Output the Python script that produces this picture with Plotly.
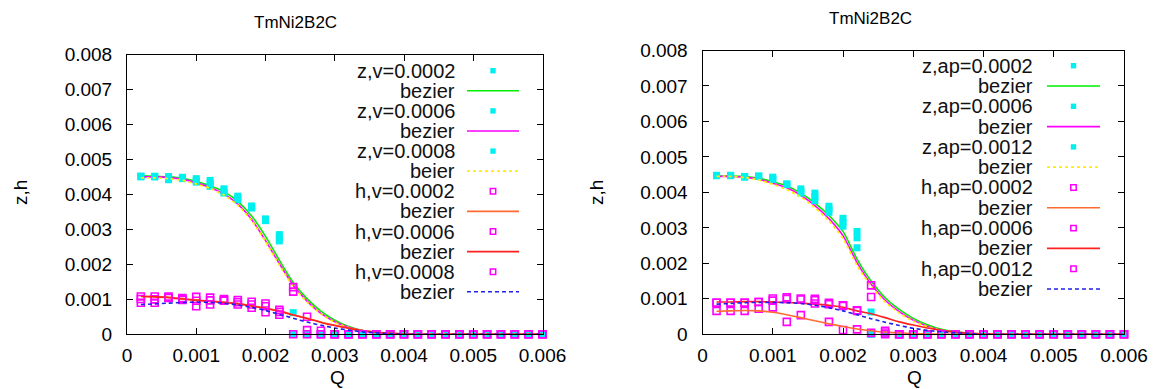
import plotly.graph_objects as go

# ---------------- data ----------------
Q = [0.0002, 0.0004, 0.0006, 0.0008, 0.0010, 0.0012, 0.0014, 0.0016, 0.0018, 0.0020,
     0.0022, 0.0024, 0.0026, 0.0028, 0.0030, 0.0032, 0.0034, 0.0036, 0.0038, 0.0040,
     0.0042, 0.0044, 0.0046, 0.0048, 0.0050, 0.0052, 0.0054, 0.0056, 0.0058, 0.0060]
Z10 = [0] * 10
Z16 = [0] * 16
Z17 = [0] * 17
Z18 = [0] * 18

# left panel (v)
z_v1 = [0.00452, 0.00452, 0.00451, 0.00449, 0.00445, 0.00440, 0.00416, 0.00395, 0.00367, 0.00330, 0.00285, 0.00062] + Z18
z_v2 = [0.00452, 0.00451, 0.00447, 0.00447, 0.00440, 0.00432, 0.00410, 0.00390, 0.00364, 0.00327, 0.00276, 0.0] + Z18
z_v3 = [0.00450, 0.00450, 0.00442, 0.00445, 0.00435, 0.00423, 0.00404, 0.00385, 0.00361, 0.00325, 0.00267, 0.0] + Z18
h_v1 = [0.00108, 0.00108, 0.00108, 0.00104, 0.00107, 0.00105, 0.00101, 0.00098, 0.00093, 0.00088, 0.00070, 0.00135, 0.00050, 0.00010] + Z16
h_v2 = [0.00101, 0.00100, 0.00105, 0.00101, 0.00096, 0.00097, 0.00098, 0.00092, 0.00085, 0.00080, 0.00064, 0.00122, 0.00012, 0.0] + Z16
h_v3 = [0.00090, 0.00090, 0.00104, 0.00098, 0.00080, 0.00085, 0.00096, 0.00085, 0.00076, 0.00063, 0.00056, 0.0, 0.0, 0.0] + Z16

bz_v1 = [0.00453, 0.00452, 0.00450, 0.00446, 0.00437, 0.00425, 0.00408, 0.00380, 0.00338, 0.00280,
         0.00212, 0.00148, 0.00102, 0.00066, 0.00040, 0.00022, 0.00011, 0.00005, 0.00002, 0.00001] + Z10
bz_v2 = [0.00450, 0.00450, 0.00448, 0.00443, 0.00433, 0.00420, 0.00401, 0.00372, 0.00328, 0.00268,
         0.00202, 0.00140, 0.00095, 0.00060, 0.00036, 0.00020, 0.00010, 0.00004, 0.00002, 0.0] + Z10
bz_v3 = [0.00447, 0.00447, 0.00445, 0.00440, 0.00430, 0.00417, 0.00398, 0.00369, 0.00325, 0.00265,
         0.00198, 0.00137, 0.00092, 0.00058, 0.00034, 0.00019, 0.00009, 0.00004, 0.00001, 0.0] + Z10
bh_v1 = [0.00109, 0.00108, 0.00106, 0.00102, 0.00098, 0.00095, 0.00092, 0.00088, 0.00082, 0.00075,
         0.00067, 0.00056, 0.00046, 0.00035, 0.00026, 0.00018, 0.00011, 0.00006, 0.00003, 0.00001] + Z10
bh_v2 = [0.00108, 0.00107, 0.00105, 0.00101, 0.00097, 0.00094, 0.00091, 0.00087, 0.00081, 0.00074,
         0.00066, 0.00055, 0.00045, 0.00034, 0.00025, 0.00017, 0.00011, 0.00006, 0.00003, 0.00001] + Z10
bh_v3 = [0.00085, 0.00087, 0.00089, 0.00091, 0.00092, 0.00091, 0.00089, 0.00084, 0.00077, 0.00068,
         0.00057, 0.00046, 0.00035, 0.00026, 0.00018, 0.00012, 0.00007, 0.00004, 0.00002, 0.0] + Z10

# right panel (ap)
z_ap1 = [0.00448, 0.00448, 0.00445, 0.00446, 0.00443, 0.00424, 0.00410, 0.00398, 0.00361, 0.00327, 0.00290, 0.00063] + Z18
z_ap2 = [0.00448, 0.00448, 0.00444, 0.00446, 0.00440, 0.00423, 0.00404, 0.00388, 0.00352, 0.00316, 0.00272, 0.0] + Z18
z_ap3 = [0.00447, 0.00447, 0.00443, 0.00445, 0.00436, 0.00422, 0.00398, 0.00377, 0.00344, 0.00305, 0.00244, 0.0] + Z18
h_ap1 = [0.00066, 0.00066, 0.00066, 0.00072, 0.00076, 0.00035, 0.00054, 0.00087, 0.00035, 0.00012, 0.00014, 0.00004, 0.0] + Z17
h_ap2 = [0.00089, 0.00089, 0.00089, 0.00091, 0.00101, 0.00104, 0.00101, 0.00100, 0.00089, 0.00082, 0.00068, 0.00138, 0.00010] + Z17
h_ap3 = [0.00089, 0.00089, 0.00089, 0.00091, 0.00095, 0.00100, 0.00098, 0.00096, 0.00085, 0.00080, 0.00066, 0.00105, 0.00005] + Z17

bz_ap1 = [0.00446, 0.00446, 0.00445, 0.00440, 0.00430, 0.00418, 0.00398, 0.00370, 0.00335, 0.00290,
          0.00212, 0.00150, 0.00103, 0.00070, 0.00045, 0.00027, 0.00014, 0.00007, 0.00003, 0.00001] + Z10
bz_ap2 = [0.00445, 0.00445, 0.00443, 0.00437, 0.00426, 0.00413, 0.00392, 0.00363, 0.00326, 0.00278,
          0.00202, 0.00141, 0.00096, 0.00064, 0.00040, 0.00023, 0.00012, 0.00006, 0.00002, 0.00001] + Z10
bz_ap3 = [0.00445, 0.00445, 0.00442, 0.00435, 0.00423, 0.00408, 0.00387, 0.00357, 0.00320, 0.00270,
          0.00194, 0.00135, 0.00091, 0.00060, 0.00037, 0.00021, 0.00011, 0.00005, 0.00002, 0.00001] + Z10
bh_ap1 = [0.00065, 0.00066, 0.00067, 0.00066, 0.00062, 0.00055, 0.00047, 0.00038, 0.00030, 0.00022,
          0.00015, 0.00010, 0.00006, 0.00004, 0.00002, 0.00001, 0.0, 0.0, 0.0, 0.0] + Z10
bh_ap2 = [0.00091, 0.00091, 0.00092, 0.00092, 0.00091, 0.00090, 0.00088, 0.00085, 0.00082, 0.00076,
          0.00066, 0.00058, 0.00047, 0.00035, 0.00026, 0.00018, 0.00011, 0.00006, 0.00003, 0.00001] + Z10
bh_ap3 = [0.00085, 0.00087, 0.00089, 0.00090, 0.00090, 0.00089, 0.00087, 0.00082, 0.00075, 0.00066,
          0.00055, 0.00044, 0.00034, 0.00025, 0.00017, 0.00011, 0.00007, 0.00004, 0.00002, 0.0] + Z10

x_tickvals = [0, 0.001, 0.002, 0.003, 0.004, 0.005, 0.006]
x_ticktext = ["0", "0.001", "0.002", "0.003", "0.004", "0.005", "0.006"]
y_tickvals = [0, 0.001, 0.002, 0.003, 0.004, 0.005, 0.006, 0.007, 0.008]
y_ticktext = ["0", "0.001", "0.002", "0.003", "0.004", "0.005", "0.006", "0.007", "0.008"]

title_text = "TmNi2B2C"
y_title = "z,h"
x_title = "Q"

labels_left = ["z,v=0.0002", "bezier", "z,v=0.0006", "bezier", "z,v=0.0008", "beier",
               "h,v=0.0002", "bezier", "h,v=0.0006", "bezier", "h,v=0.0008", "bezier"]
labels_right = ["z,ap=0.0002", "bezier", "z,ap=0.0006", "bezier", "z,ap=0.0012", "bezier",
                "h,ap=0.0002", "bezier", "h,ap=0.0006", "bezier", "h,ap=0.0012", "bezier"]

# ---------------- styles ----------------
W, H = 1155, 389
FONT = "Liberation Sans, Arial, sans-serif"
CYAN = "#00f0f0"
MAG = "#ff00ff"
line_styles = [
    dict(color="#00ee00", width=1.6, dash="solid"),
    dict(color="#ff00ff", width=1.6, dash="solid"),
    dict(color="#ffee00", width=1.8, dash="dot"),
    dict(color="#ff6a30", width=1.6, dash="solid"),
    dict(color="#ff2020", width=1.6, dash="solid"),
    dict(color="#2020ee", width=1.6, dash="4px,3px"),
]
pt_z = dict(symbol="square", size=7, color=CYAN, line=dict(width=0))
pt_h = dict(symbol="square-open", size=7, color=MAG, line=dict(width=1.6, color=MAG))

fig = go.Figure()


def add_panel(xa, ya, pts, curves):
    for i in range(6):
        mk = pt_z if i < 3 else pt_h
        fig.add_trace(go.Scatter(x=Q, y=pts[i], mode="markers", marker=mk,
                                 xaxis=xa, yaxis=ya, showlegend=False, cliponaxis=False))
        fig.add_trace(go.Scatter(x=Q, y=curves[i], mode="lines",
                                 line=dict(**line_styles[i], shape="spline", smoothing=0.6),
                                 xaxis=xa, yaxis=ya, showlegend=False))


add_panel("x", "y", [z_v1, z_v2, z_v3, h_v1, h_v2, h_v3],
          [bz_v1, bz_v2, bz_v3, bh_v1, bh_v2, bh_v3])
add_panel("x2", "y2", [z_ap1, z_ap2, z_ap3, h_ap1, h_ap2, h_ap3],
          [bz_ap1, bz_ap2, bz_ap3, bh_ap1, bh_ap2, bh_ap3])

# plot frames (pixel geometry)
L = dict(x0=127, x1=542.5, y0=54.5, y1=334.3)
R = dict(x0=702.5, x1=1124, y0=50.5, y1=334.3)


def ax_common(rng, tv, tt):
    return dict(range=rng, tickvals=tv, ticktext=tt, ticks="inside", ticklen=6,
                tickcolor="black", showline=True, linecolor="black", linewidth=1,
                mirror="ticks", showgrid=False, zeroline=False, automargin=False,
                tickfont=dict(family=FONT, size=19, color="black"))


layout = dict(width=W, height=H, margin=dict(l=0, r=0, t=0, b=0, autoexpand=False),
              paper_bgcolor="white", plot_bgcolor="white", showlegend=False)
for key, P, anchor in [("", L, ""), ("2", R, "2")]:
    xa = ax_common([0, 0.006], x_tickvals, x_ticktext)
    xa.update(domain=[P["x0"] / W, P["x1"] / W], anchor="y" + anchor, ticklabelstandoff=4)
    ya = ax_common([0, 0.008], y_tickvals, y_ticktext)
    ya.update(domain=[1 - P["y1"] / H, 1 - P["y0"] / H], anchor="x" + anchor, ticklabelstandoff=10)
    layout["xaxis" + key] = xa
    layout["yaxis" + key] = ya
fig.update_layout(**layout)

annotations = []
shapes = []


def px(x):
    return x / W


def py(y):
    return 1 - y / H


def text_at(x, y, s, size, xanchor="center", angle=0, color="black"):
    annotations.append(dict(x=px(x), y=py(y), xref="paper", yref="paper", text=s,
                            xanchor=xanchor, yanchor="middle", textangle=angle,
                            showarrow=False, font=dict(family=FONT, size=size, color=color)))


# titles and axis titles
for cx, cy in [(295, 22), (870, 18)]:
    text_at(cx, cy, title_text, 17)
for cx in (20, 596):
    text_at(cx, 193, y_title, 19, angle=-90)
for cx in (337, 914):
    text_at(cx, 377, x_title, 19)

# legends (gnuplot style: text right-aligned, sample on the right)
for labels, tx, l0, l1, y0, dy in [(labels_left, 457, 467, 519, 70.7, 20.1),
                                    (labels_right, 1035, 1047, 1100, 65.7, 20.3)]:
    for k, lab in enumerate(labels):
        yy = y0 + k * dy
        text_at(tx, yy, lab, 20, xanchor="right", color="#111111")
        i = k // 2
        cx = (l0 + l1) / 2
        if k % 2 == 0:
            s = 2.7
            if i < 3:
                shapes.append(dict(type="rect", xref="paper", yref="paper",
                                   x0=px(cx - s), x1=px(cx + s), y0=py(yy - s), y1=py(yy + s),
                                   fillcolor=CYAN, line=dict(width=0)))
            else:
                shapes.append(dict(type="rect", xref="paper", yref="paper",
                                   x0=px(cx - s), x1=px(cx + s), y0=py(yy - s), y1=py(yy + s),
                                   fillcolor="rgba(0,0,0,0)", line=dict(width=1.5, color=MAG)))
        else:
            st = line_styles[i]
            shapes.append(dict(type="line", xref="paper", yref="paper",
                               x0=px(l0), x1=px(l1), y0=py(yy), y1=py(yy),
                               line=dict(color=st["color"], width=st["width"], dash=st["dash"])))

fig.update_layout(annotations=annotations, shapes=shapes)
fig.write_html("out.html")
